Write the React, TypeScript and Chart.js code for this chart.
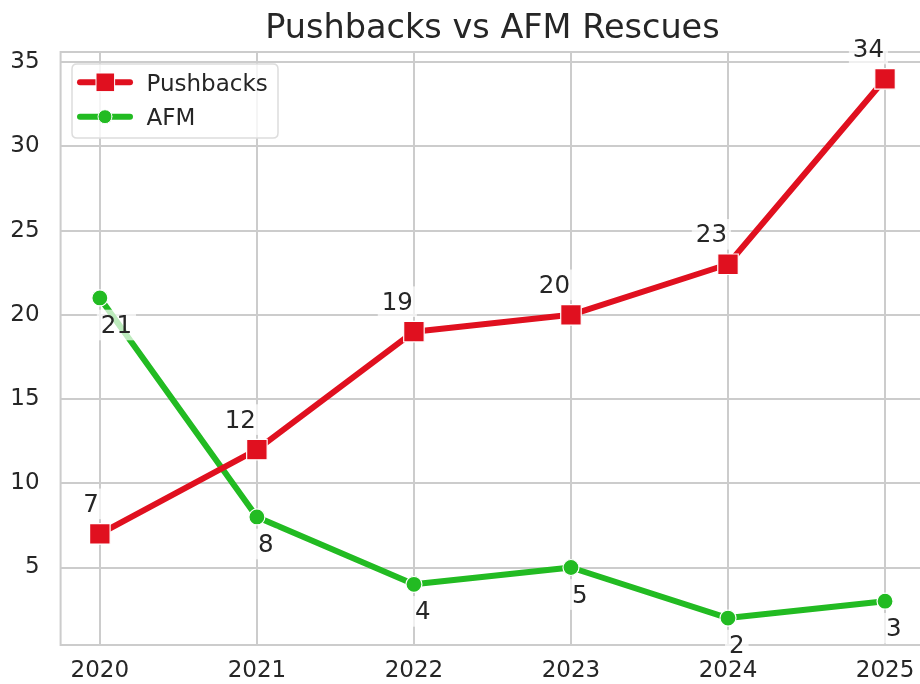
import React, { useEffect, useRef } from "react";
import { Chart, registerables } from "chart.js";

Chart.register(...registerables);

const years = [2020, 2021, 2022, 2023, 2024, 2025];
const pushbacks = [7, 12, 19, 20, 23, 34];
const afm = [21, 8, 4, 5, 2, 3];
const yTicks = [5, 10, 15, 20, 25, 30, 35];
const seriesNames = ["Pushbacks", "AFM"];
const titleText = "Pushbacks vs AFM Rescues";

const RED = "#e0101f";
const GREEN = "#22bb22";
const TEXT = "#262626";
const GRID = "#cccccc";
const FONT = "'DejaVu Sans', sans-serif";

const framePlugin = {
  id: "frame",
  beforeDatasetsDraw(chart: any) {
    const { ctx, chartArea: a } = chart;
    ctx.save();
    ctx.strokeStyle = GRID;
    ctx.lineWidth = 2;
    ctx.strokeRect(a.left, a.top, a.right - a.left, a.bottom - a.top);
    ctx.restore();
  },
};

const labelsPlugin = {
  id: "valueLabels",
  afterDatasetsDraw(chart: any) {
    const ctx = chart.ctx;
    const fs = 24.5;
    ctx.save();
    ctx.font = `${fs}px ${FONT}`;
    chart.data.datasets.forEach((ds: any, i: number) => {
      const meta = chart.getDatasetMeta(i);
      meta.data.forEach((pt: any, j: number) => {
        const txt = String(ds.data[j].y);
        const w = ctx.measureText(txt).width;
        let tx: number, by: number, left: number;
        if (i === 0) {
          tx = pt.x - 1;
          by = pt.y - 22;
          left = tx - w;
          ctx.textAlign = "right";
        } else {
          tx = pt.x + 1;
          by = pt.y + 35;
          left = tx;
          ctx.textAlign = "left";
        }
        ctx.fillStyle = "rgba(255,255,255,0.7)";
        ctx.fillRect(left - 4, by - 0.95 * fs, w + 8, 1.25 * fs);
        ctx.fillStyle = TEXT;
        ctx.textBaseline = "alphabetic";
        ctx.fillText(txt, tx, by);
      });
    });
    ctx.restore();
  },
};

const decorPlugin = {
  id: "decor",
  afterDraw(chart: any) {
    const { ctx, chartArea: a } = chart;
    ctx.save();
    // title
    ctx.font = `33.5px ${FONT}`;
    ctx.fillStyle = TEXT;
    ctx.textAlign = "center";
    ctx.textBaseline = "alphabetic";
    ctx.fillText(titleText, (a.left + a.right) / 2, 37.5);

    // legend
    const bx = 72, by = 64, bw = 206, bh = 74, r = 5;
    ctx.beginPath();
    ctx.moveTo(bx + r, by);
    ctx.lineTo(bx + bw - r, by);
    ctx.quadraticCurveTo(bx + bw, by, bx + bw, by + r);
    ctx.lineTo(bx + bw, by + bh - r);
    ctx.quadraticCurveTo(bx + bw, by + bh, bx + bw - r, by + bh);
    ctx.lineTo(bx + r, by + bh);
    ctx.quadraticCurveTo(bx, by + bh, bx, by + bh - r);
    ctx.lineTo(bx, by + r);
    ctx.quadraticCurveTo(bx, by, bx + r, by);
    ctx.closePath();
    ctx.fillStyle = "rgba(255,255,255,0.8)";
    ctx.fill();
    ctx.strokeStyle = "#dddddd";
    ctx.lineWidth = 1.5;
    ctx.stroke();

    const rows = [82.3, 116.7];
    chart.data.datasets.forEach((ds: any, i: number) => {
      const y = rows[i];
      ctx.strokeStyle = ds.borderColor;
      ctx.lineWidth = 6;
      ctx.lineCap = "round";
      ctx.beginPath();
      ctx.moveTo(80, y);
      ctx.lineTo(130, y);
      ctx.stroke();
      ctx.fillStyle = ds.borderColor;
      ctx.strokeStyle = "#ffffff";
      ctx.lineWidth = 1;
      if (i === 0) {
        ctx.fillRect(96, y - 9.3, 18.6, 18.6);
        ctx.strokeRect(96, y - 9.3, 18.6, 18.6);
      } else {
        ctx.beginPath();
        ctx.arc(105, y, 7, 0, Math.PI * 2);
        ctx.fill();
        ctx.stroke();
      }
      ctx.font = `23px ${FONT}`;
      ctx.fillStyle = TEXT;
      ctx.textAlign = "left";
      ctx.textBaseline = "alphabetic";
      ctx.fillText(ds.label, 146.5, y + 8.6);
    });
    ctx.restore();
  },
};

export default function App() {
  const ref = useRef<HTMLCanvasElement | null>(null);

  useEffect(() => {
    document.body.style.margin = "0";
    if (!ref.current) return;
    const chart = new Chart(ref.current, {
      type: "line",
      data: {
        datasets: [
          {
            label: seriesNames[0],
            data: years.map((x, i) => ({ x, y: pushbacks[i] })),
            borderColor: RED,
            backgroundColor: RED,
            borderWidth: 6,
            borderJoinStyle: "round",
            borderCapStyle: "round",
            pointStyle: "rect",
            pointRadius: 14.5,
            pointBackgroundColor: RED,
            pointBorderColor: "#ffffff",
            pointBorderWidth: 1.2,
            tension: 0,
          },
          {
            label: seriesNames[1],
            data: years.map((x, i) => ({ x, y: afm[i] })),
            borderColor: GREEN,
            backgroundColor: GREEN,
            borderWidth: 6,
            borderJoinStyle: "round",
            borderCapStyle: "round",
            pointStyle: "circle",
            pointRadius: 8,
            pointBackgroundColor: GREEN,
            pointBorderColor: "#ffffff",
            pointBorderWidth: 1.2,
            tension: 0,
          },
        ],
      },
      options: {
        animation: false,
        responsive: false,
        events: [],
        layout: { padding: { top: 52, right: 13.3, left: 0, bottom: 0 } },
        plugins: {
          legend: { display: false },
          title: { display: false },
          tooltip: { enabled: false },
        },
        scales: {
          x: {
            type: "linear",
            min: 2019.75,
            max: 2025.25,
            afterBuildTicks: (s: any) => {
              s.ticks = years.map((v) => ({ value: v }));
            },
            afterFit: (s: any) => {
              s.height = 39;
            },
            grid: { color: GRID, lineWidth: 2, drawTicks: false },
            border: { display: false },
            ticks: {
              color: TEXT,
              font: { family: FONT, size: 23 },
              padding: 12.5,
              maxRotation: 0,
              autoSkip: false,
              callback: (v: any) => String(v),
            },
          },
          y: {
            type: "linear",
            min: 0.4,
            max: 35.6,
            afterBuildTicks: (s: any) => {
              s.ticks = yTicks.map((v) => ({ value: v }));
            },
            afterFit: (s: any) => {
              s.width = 60.6;
            },
            grid: { color: GRID, lineWidth: 2, drawTicks: false },
            border: { display: false },
            ticks: {
              color: TEXT,
              font: { family: FONT, size: 23 },
              padding: 21,
              callback: (v: any) => String(v),
            },
          },
        },
      },
      plugins: [framePlugin, labelsPlugin, decorPlugin],
    } as any);
    return () => chart.destroy();
  }, []);

  return (
    <div style={{ width: 920, height: 684, overflow: "hidden", position: "relative" }}>
      <canvas ref={ref} width={940} height={684} style={{ width: 940, height: 684, display: "block" }} />
    </div>
  );
}
